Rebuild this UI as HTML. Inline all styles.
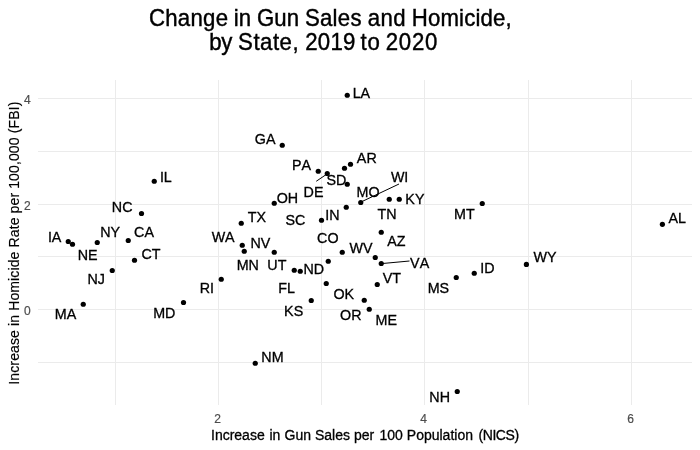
<!DOCTYPE html>
<html lang="en"><head><meta charset="utf-8"><title>Change in Gun Sales and Homicide, by State, 2019 to 2020</title>
<style>html,body{margin:0;padding:0;background:#fff}svg{display:block}text{font-family:"Liberation Sans",Arial,sans-serif;font-kerning:none}</style></head><body>
<svg width="700" height="450" viewBox="0 0 700 450">
<rect width="700" height="450" fill="#fff"/>
<g fill="#ebebeb" shape-rendering="crispEdges">
<rect x="38" y="98" width="654" height="1"/>
<rect x="38" y="151" width="654" height="1"/>
<rect x="38" y="204" width="654" height="1"/>
<rect x="38" y="256" width="654" height="1"/>
<rect x="38" y="309" width="654" height="1"/>
<rect x="38" y="362" width="654" height="1"/>
<rect x="115" y="80" width="1" height="325"/>
<rect x="218" y="80" width="1" height="325"/>
<rect x="321" y="80" width="1" height="325"/>
<rect x="424" y="80" width="1" height="325"/>
<rect x="528" y="80" width="1" height="325"/>
<rect x="631" y="80" width="1" height="325"/>
</g>
<g stroke="#000" stroke-width="1" fill="none">
<line x1="316.25" y1="181.25" x2="326.25" y2="174.5"/>
<line x1="361" y1="202" x2="399" y2="184"/>
<line x1="382.5" y1="263.5" x2="409.5" y2="261"/>
</g>
<g fill="#000">
<circle cx="154.25" cy="181.25" r="2.6"/>
<circle cx="141.5" cy="213.5" r="2.6"/>
<circle cx="97.25" cy="242.5" r="2.6"/>
<circle cx="128.25" cy="240.5" r="2.6"/>
<circle cx="68.25" cy="241.5" r="2.6"/>
<circle cx="72.5" cy="244.25" r="2.6"/>
<circle cx="134.5" cy="260.25" r="2.6"/>
<circle cx="112.25" cy="270.5" r="2.6"/>
<circle cx="83.25" cy="304.25" r="2.6"/>
<circle cx="183.5" cy="302.5" r="2.6"/>
<circle cx="347.25" cy="95.25" r="2.6"/>
<circle cx="282.25" cy="145.25" r="2.6"/>
<circle cx="318.25" cy="171.25" r="2.6"/>
<circle cx="327.25" cy="173.5" r="2.6"/>
<circle cx="344.5" cy="168.25" r="2.6"/>
<circle cx="350.5" cy="164.25" r="2.6"/>
<circle cx="347.25" cy="184.25" r="2.6"/>
<circle cx="360.75" cy="202.5" r="2.6"/>
<circle cx="346.25" cy="207.25" r="2.6"/>
<circle cx="399.25" cy="199.25" r="2.6"/>
<circle cx="389.25" cy="199.25" r="2.6"/>
<circle cx="321.5" cy="220.25" r="2.6"/>
<circle cx="381.25" cy="232.25" r="2.6"/>
<circle cx="274.25" cy="203.25" r="2.6"/>
<circle cx="241.25" cy="223.25" r="2.6"/>
<circle cx="242.25" cy="245.25" r="2.6"/>
<circle cx="244.25" cy="251.25" r="2.6"/>
<circle cx="274.25" cy="252.25" r="2.6"/>
<circle cx="300.25" cy="271.25" r="2.6"/>
<circle cx="294.25" cy="270.25" r="2.6"/>
<circle cx="328.25" cy="261.25" r="2.6"/>
<circle cx="342.25" cy="252.25" r="2.6"/>
<circle cx="221.25" cy="279.25" r="2.6"/>
<circle cx="326.25" cy="283.5" r="2.6"/>
<circle cx="375.25" cy="257.5" r="2.6"/>
<circle cx="381.25" cy="263.5" r="2.6"/>
<circle cx="377.25" cy="284.5" r="2.6"/>
<circle cx="364.25" cy="300.25" r="2.6"/>
<circle cx="369.25" cy="309.25" r="2.6"/>
<circle cx="311.25" cy="300.5" r="2.6"/>
<circle cx="456.25" cy="277.5" r="2.6"/>
<circle cx="474.25" cy="273.25" r="2.6"/>
<circle cx="482.25" cy="203.5" r="2.6"/>
<circle cx="526.4" cy="264.4" r="2.6"/>
<circle cx="662.4" cy="224.3" r="2.6"/>
<circle cx="457.25" cy="391.5" r="2.6"/>
<circle cx="255.25" cy="363.25" r="2.6"/>
</g>
<g font-size="14.3" fill="#000" stroke="#000" stroke-width="0.3">
<text transform="translate(159.89,182.30) scale(1,1.085)">IL</text>
<text transform="translate(111.84,211.55) scale(1,1.085)">NC</text>
<text transform="translate(100.29,237.05) scale(1,1.085)">NY</text>
<text transform="translate(134.09,237.05) scale(1,1.085)">CA</text>
<text transform="translate(47.89,242.05) scale(1,1.085)">IA</text>
<text transform="translate(77.71,260.30) scale(1,1.085)">NE</text>
<text transform="translate(141.46,258.80) scale(1,1.085)">CT</text>
<text transform="translate(87.46,284.05) scale(1,1.085)">NJ</text>
<text transform="translate(54.80,319.05) scale(1,1.085)">MA</text>
<text transform="translate(153.17,318.30) scale(1,1.085)">MD</text>
<text transform="translate(352.65,97.55) scale(1,1.085)">LA</text>
<text transform="translate(254.81,143.55) scale(1,1.085)">GA</text>
<text transform="translate(292.01,169.80) scale(1,1.085)">PA</text>
<text transform="translate(303.59,196.55) scale(1,1.085)">DE</text>
<text transform="translate(326.48,184.80) scale(1,1.085)">SD</text>
<text transform="translate(356.86,162.80) scale(1,1.085)">AR</text>
<text transform="translate(390.88,181.80) scale(1,1.085)">WI</text>
<text transform="translate(356.55,196.55) scale(1,1.085)">MO</text>
<text transform="translate(405.36,203.55) scale(1,1.085)">KY</text>
<text transform="translate(377.51,218.80) scale(1,1.085)">TN</text>
<text transform="translate(325.26,219.55) scale(1,1.085)">IN</text>
<text transform="translate(454.05,218.80) scale(1,1.085)">MT</text>
<text transform="translate(276.69,202.55) scale(1,1.085)">OH</text>
<text transform="translate(247.76,221.80) scale(1,1.085)">TX</text>
<text transform="translate(285.48,224.80) scale(1,1.085)">SC</text>
<text transform="translate(211.63,241.80) scale(1,1.085)">WA</text>
<text transform="translate(250.41,247.55) scale(1,1.085)">NV</text>
<text transform="translate(236.65,269.80) scale(1,1.085)">MN</text>
<text transform="translate(267.34,270.30) scale(1,1.085)">UT</text>
<text transform="translate(317.09,242.70) scale(1,1.085)">CO</text>
<text transform="translate(303.51,273.90) scale(1,1.085)">ND</text>
<text transform="translate(199.71,292.80) scale(1,1.085)">RI</text>
<text transform="translate(278.23,292.80) scale(1,1.085)">FL</text>
<text transform="translate(387.23,246.30) scale(1,1.085)">AZ</text>
<text transform="translate(349.50,252.80) scale(1,1.085)">WV</text>
<text transform="translate(410.11,267.80) scale(1,1.085)">VA</text>
<text transform="translate(382.73,282.80) scale(1,1.085)">VT</text>
<text transform="translate(333.44,298.55) scale(1,1.085)">OK</text>
<text transform="translate(340.06,319.80) scale(1,1.085)">OR</text>
<text transform="translate(375.55,324.55) scale(1,1.085)">ME</text>
<text transform="translate(427.67,292.80) scale(1,1.085)">MS</text>
<text transform="translate(284.11,315.80) scale(1,1.085)">KS</text>
<text transform="translate(261.34,361.80) scale(1,1.085)">NM</text>
<text transform="translate(533.40,262.00) scale(1,1.085)">WY</text>
<text transform="translate(480.26,272.80) scale(1,1.085)">ID</text>
<text transform="translate(668.58,223.20) scale(1,1.085)">AL</text>
<text transform="translate(429.34,401.80) scale(1,1.085)">NH</text>
</g>
<g font-size="12" fill="#4d4d4d" stroke="#4d4d4d" stroke-width="0.2">
<text x="30.6" y="103.6" text-anchor="end">4</text>
<text x="30.6" y="209.6" text-anchor="end">2</text>
<text x="30.6" y="314.6" text-anchor="end">0</text>
<text x="217.7" y="423" text-anchor="middle">2</text>
<text x="423.7" y="423" text-anchor="middle">4</text>
<text x="630.7" y="423" text-anchor="middle">6</text>
</g>
<g font-size="14" stroke="#000" stroke-width="0.3">
<text x="211" y="440">Increase</text>
<text x="269.4" y="440">in</text>
<text x="284.5" y="440">Gun</text>
<text x="315.0" y="440">Sales</text>
<text x="353.9" y="440">per</text>
<text x="379.4" y="440">100</text>
<text x="406.8" y="440">Population</text>
<text x="478.4" y="440" textLength="40.8" lengthAdjust="spacing">(NICS)</text>
</g>
<text transform="translate(19,243.2) rotate(-90)" font-size="14" stroke="#000" stroke-width="0.15" text-anchor="middle" textLength="283" lengthAdjust="spacing">Increase in Homicide Rate per 100,000 (FBI)</text>
<g font-size="22.2" stroke="#000" stroke-width="0.4">
<text transform="translate(148.9,25.7) scale(1,1.05)" textLength="79.15" lengthAdjust="spacing">Change</text>
<text transform="translate(233.7,25.7) scale(1,1.05)">in</text>
<text transform="translate(256.9,25.7) scale(1,1.05)" textLength="42.3" lengthAdjust="spacing">Gun</text>
<text transform="translate(304.9,25.7) scale(1,1.05)" textLength="56.6" lengthAdjust="spacing">Sales</text>
<text transform="translate(367.8,25.7) scale(1,1.05)" textLength="37.7" lengthAdjust="spacing">and</text>
<text transform="translate(411.84,25.7) scale(1,1.05)" textLength="99.8" lengthAdjust="spacing">Homicide,</text>
</g>
<g font-size="22.2" stroke="#000" stroke-width="0.4">
<text transform="translate(209.3,49.7) scale(1,1.05)" textLength="23.1" lengthAdjust="spacing">by</text>
<text transform="translate(238.1,49.7) scale(1,1.05)" textLength="60.5" lengthAdjust="spacing">State,</text>
<text transform="translate(305.28,49.7) scale(1,1.05)" textLength="50.0" lengthAdjust="spacing">2019</text>
<text transform="translate(360.5,49.7) scale(1,1.05)" textLength="19.3" lengthAdjust="spacing">to</text>
<text transform="translate(385.8,49.7) scale(1,1.05)" textLength="51.5" lengthAdjust="spacing">2020</text>
</g>
</svg></body></html>
